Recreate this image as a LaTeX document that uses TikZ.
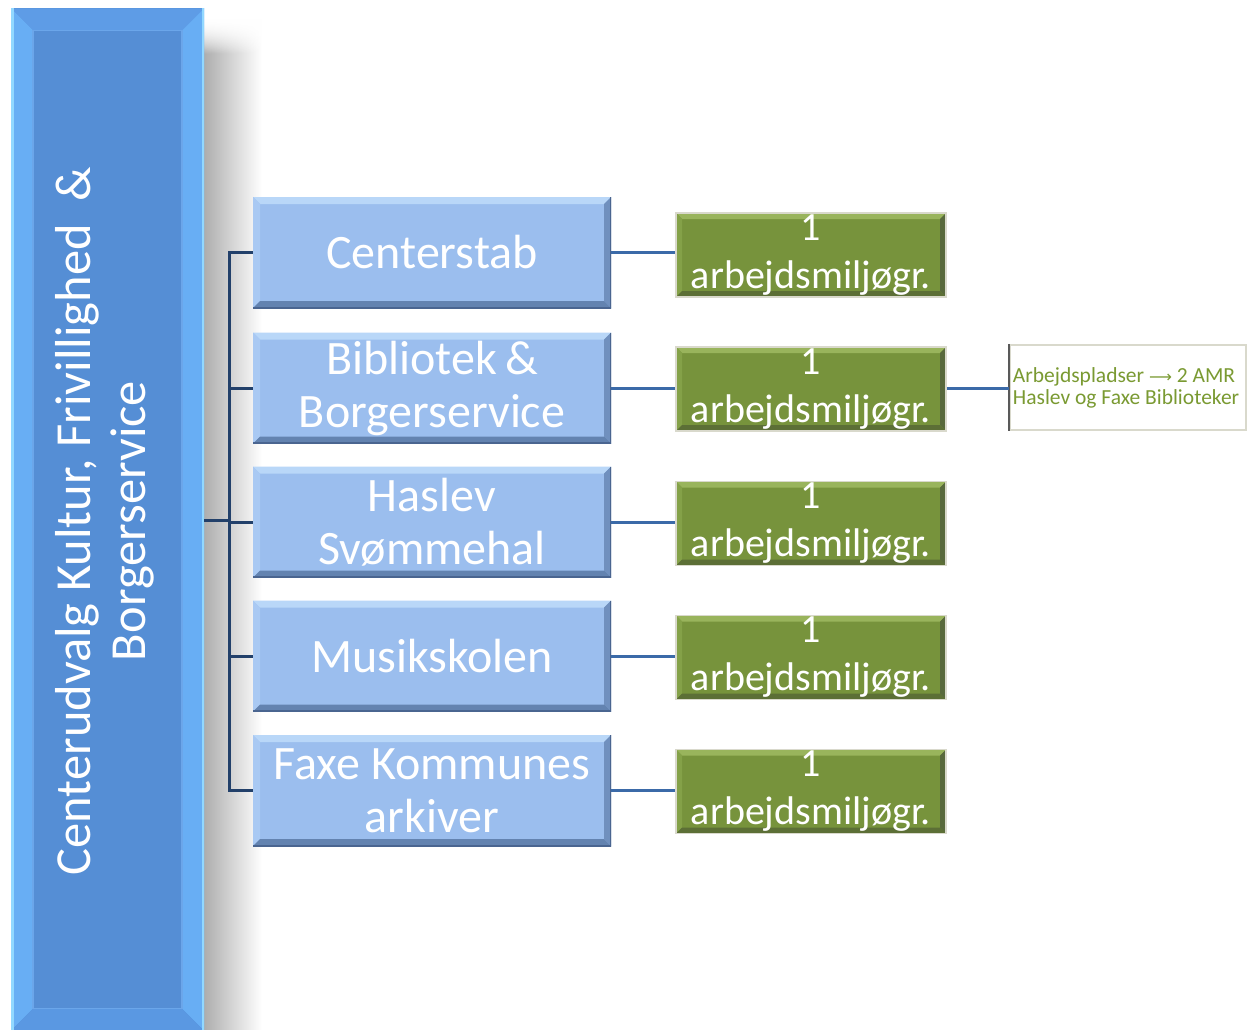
\documentclass[tikz,border=0pt]{standalone}
\usepackage{fontspec}
\setmainfont{Carlito}
\newfontfamily\arrowfont{DejaVu Sans}
\definecolor{bigmain}{HTML}{558ED5}
\definecolor{bigtop}{HTML}{5E9CE6}
\definecolor{bigside}{HTML}{68AEF4}
\definecolor{bigbot}{HTML}{5A98E2}
\definecolor{bigedge}{HTML}{92D8FF}
\definecolor{bigline}{HTML}{6BA6EA}
\definecolor{bmain}{HTML}{9BBEEE}
\definecolor{btop}{HTML}{B9D7F8}
\definecolor{bleft}{HTML}{A9C9F3}
\definecolor{bright}{HTML}{7090BE}
\definecolor{bbot}{HTML}{6383B0}
\definecolor{bout}{HTML}{4A6590}
\definecolor{gmain}{HTML}{77933C}
\definecolor{gtop}{HTML}{99B45C}
\definecolor{gleft}{HTML}{84A148}
\definecolor{gright}{HTML}{58693C}
\definecolor{gbot}{HTML}{5C6F36}
\definecolor{gglow}{HTML}{D9D9CC}
\definecolor{busc}{HTML}{22406A}
\definecolor{linkc}{HTML}{3B6AA8}
\definecolor{notetext}{HTML}{7A9A32}
\newcommand\mybevel[5]{%
 \fill[#2] (path picture bounding box.north west) -- (path picture bounding box.north east) -- ([xshift=-#1pt,yshift=-#1pt]path picture bounding box.north east) -- ([xshift=#1pt,yshift=-#1pt]path picture bounding box.north west) -- cycle;
 \fill[#3] (path picture bounding box.north west) -- ([xshift=#1pt,yshift=-#1pt]path picture bounding box.north west) -- ([xshift=#1pt,yshift=#1pt]path picture bounding box.south west) -- (path picture bounding box.south west) -- cycle;
 \fill[#4] (path picture bounding box.north east) -- ([xshift=-#1pt,yshift=-#1pt]path picture bounding box.north east) -- ([xshift=-#1pt,yshift=#1pt]path picture bounding box.south east) -- (path picture bounding box.south east) -- cycle;
 \fill[#5] (path picture bounding box.south west) -- ([xshift=#1pt,yshift=#1pt]path picture bounding box.south west) -- ([xshift=-#1pt,yshift=#1pt]path picture bounding box.south east) -- (path picture bounding box.south east) -- cycle;
}
\tikzset{
 bigbox/.style={rectangle, inner sep=0pt, minimum width=193pt, minimum height=1022pt, fill=bigmain,
  path picture={\mybevel{22}{bigtop}{bigside}{bigside}{bigbot}
   \draw[bigline, line width=1.5pt] ([xshift=22pt,yshift=-22pt]path picture bounding box.north west) rectangle ([xshift=-22pt,yshift=22pt]path picture bounding box.south east);
   \draw[bigedge, line width=5pt] (path picture bounding box.north west) -- (path picture bounding box.south west);
   \draw[bigedge, line width=5pt] (path picture bounding box.north east) -- (path picture bounding box.south east);}},
 bigtext/.style={rotate=90, text=white, align=center, font=\fontsize{50.5}{55}\selectfont},
 bluebox/.style={rectangle, inner sep=0pt, minimum width=358pt, minimum height=111pt, fill=bmain,
  text=white, align=center, font=\fontsize{48}{53}\selectfont,
  path picture={\mybevel{7}{btop}{bleft}{bright}{bbot}
   \draw[bout, line width=3pt] (path picture bounding box.south west) -- (path picture bounding box.south east) -- (path picture bounding box.north east);}},
 greenbox/.style={rectangle, inner sep=0pt, minimum width=270pt, minimum height=84pt, fill=gmain,
  draw=gglow, line width=1.5pt,
  text=white, align=center, font=\fontsize{40}{48}\selectfont,
  path picture={\mybevel{6}{gtop}{gleft}{gright}{gbot}}},
 notebox/.style={rectangle, inner sep=0pt, minimum width=236pt, minimum height=85pt, fill=white,
  draw=gglow, line width=2.5pt},
 notetxt/.style={text=notetext, align=left, inner sep=0pt, font=\fontsize{21.5}{22}\selectfont, anchor=west},
 bus/.style={draw=busc, line width=3pt},
 link/.style={draw=linkc, line width=3pt},
}
\begin{document}
\begin{tikzpicture}[x=1pt,y=-1pt]
\useasboundingbox (0,0) rectangle (1247,1030);
\fill[white] (0,0) rectangle (1247,1030);
% shadow of the top box
\shade[left color=black!32, right color=white] (204,18) rectangle (262,1030);
\foreach \i in {0,...,35} {
  \fill[white, opacity={1-\i/36}] (203,17+\i) rectangle (264,18.6+\i);
}
% top box
\node[bigbox] (top) at (107.5,519.5) {};
\node[bigtext] (toptext) at (105,521) {Centerudvalg Kultur, Frivillighed \ \&\\Borgerservice};
% coordinate of the bus
\coordinate (bus) at (229,520);
% blue boxes
\node[bluebox] (b1) at (432,252.5) {Centerstab};
\node[bluebox] (b2) at (432,388) {Bibliotek\,\&\\Borgerservice};
\node[bluebox] (b3) at (432,522) {Haslev\\Svømmehal};
\node[bluebox] (b4) at (432,656) {Musikskolen};
\node[bluebox] (b5) at (432,790.5) {Faxe Kommunes\\arkiver};
% green boxes
\node[greenbox] (g1) at (811,255) {1\\arbejdsmiljøgr.};
\node[greenbox] (g2) at (811,389) {1\\arbejdsmiljøgr.};
\node[greenbox] (g3) at (811,523.5) {1\\arbejdsmiljøgr.};
\node[greenbox] (g4) at (811,657.5) {1\\arbejdsmiljøgr.};
\node[greenbox] (g5) at (811,791.5) {1\\arbejdsmiljøgr.};
% note box
\node[notebox] (note) at (1128,387.5) {};
\draw[black!65, line width=2pt] (note.north west) -- (note.south west);
\node[notetxt] (notet) at ([xshift=4pt]note.west) {Arbejdspladser {\arrowfont\fontsize{16}{22}\selectfont ⟶} 2 AMR\\Haslev og Faxe Biblioteker};
% connectors
\draw[bus] (top.east |- bus) -- (bus);
\draw[bus] (b1.west) -| (bus) |- (b5.west);
\draw[bus] (b2.west) -- (b2.west -| bus);
\draw[bus] (b3.west) -- (b3.west -| bus);
\draw[bus] (b4.west) -- (b4.west -| bus);
\draw[link] (b1.east) -- (b1.east -| g1.west);
\draw[link] (b2.east) -- (b2.east -| g2.west);
\draw[link] (b3.east) -- (b3.east -| g3.west);
\draw[link] (b4.east) -- (b4.east -| g4.west);
\draw[link] (b5.east) -- (b5.east -| g5.west);
\draw[link] (b2.east -| g2.east) -- (b2.east -| note.west);
\end{tikzpicture}
\end{document}
